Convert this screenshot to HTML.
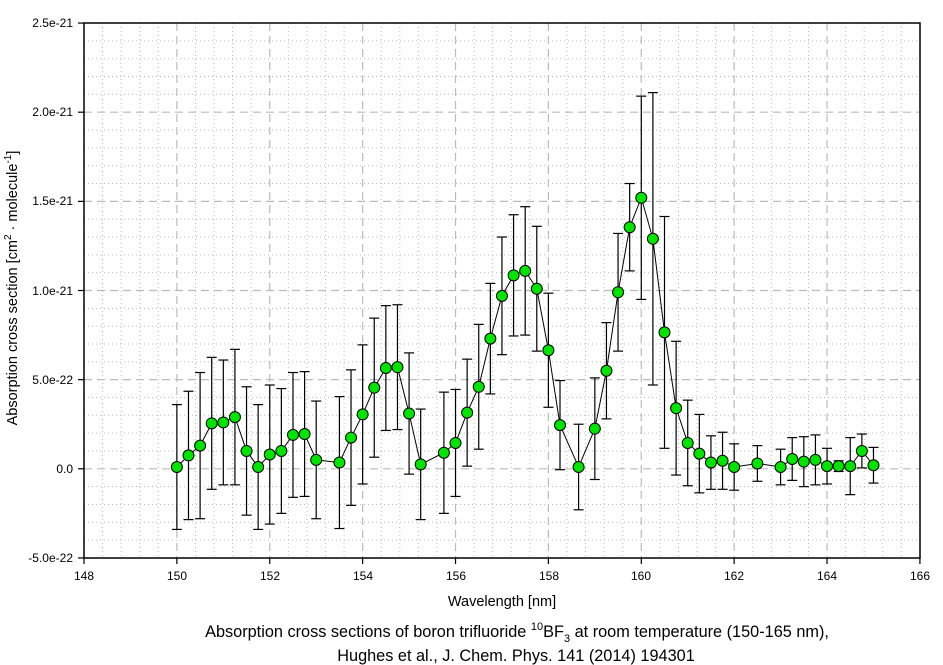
<!DOCTYPE html>
<html><head><meta charset="utf-8"><style>
html,body{margin:0;padding:0;background:#fff;}
svg{display:block;font-family:"Liberation Sans",Arial,sans-serif;}
</style></head><body>
<svg id="s" width="943" height="665" viewBox="0 0 943 665" xmlns="http://www.w3.org/2000/svg">
<rect width="943" height="665" fill="#fff"/>
<g id="grid"></g>
<g id="data"></g>
<rect x="84" y="23" width="836" height="535" fill="none" stroke="#000" stroke-width="1.5"/>
<g id="ticks" stroke="#000" stroke-width="1.2"></g>
<g font-size="12" fill="#000" text-anchor="end">
<text x="73" y="27">2.5e-21</text>
<text x="73" y="116">2.0e-21</text>
<text x="73" y="205">1.5e-21</text>
<text x="73" y="295">1.0e-21</text>
<text x="73" y="384">5.0e-22</text>
<text x="73" y="473">0.0</text>
<text x="73" y="562">-5.0e-22</text>
</g>
<g font-size="12" fill="#000" text-anchor="middle">
<text x="84" y="580">148</text>
<text x="177" y="580">150</text>
<text x="270" y="580">152</text>
<text x="363" y="580">154</text>
<text x="456" y="580">156</text>
<text x="549" y="580">158</text>
<text x="641" y="580">160</text>
<text x="734" y="580">162</text>
<text x="827" y="580">164</text>
<text x="920" y="580">166</text>
<text x="502" y="606" font-size="14.5">Wavelength [nm]</text>
</g>
<text transform="translate(17,288) rotate(-90)" font-size="14.5" text-anchor="middle">Absorption cross section [cm<tspan dy="-6" font-size="10">2</tspan><tspan dy="6"> · molecule</tspan><tspan dy="-6" font-size="10">-1</tspan><tspan dy="6">]</tspan></text>
<g font-size="16.3" text-anchor="middle" fill="#000">
<text x="517" y="637">Absorption cross sections of boron trifluoride <tspan dy="-7" font-size="11">10</tspan><tspan dy="7">BF</tspan><tspan dy="5" font-size="11">3</tspan><tspan dy="-5"> at room temperature (150-165 nm),</tspan></text>
<text x="516" y="661">Hughes et al., J. Chem. Phys. 141 (2014) 194301</text>
</g>
</svg>
<script>
var NS="http://www.w3.org/2000/svg";
function X(w){return 84+(w-148)*46.44;}
function Y(v){return 468.8-v*17.83;}
function el(p,t,a){var e=document.createElementNS(NS,t);for(var k in a)e.setAttribute(k,a[k]);p.appendChild(e);return e;}
var g=document.getElementById('grid');
for(var i=1;i<45;i++){var w=148+i*0.4;var x=X(w);var major=(i%5==0);
 el(g,'line',{x1:x,y1:23,x2:x,y2:558,stroke:major?'#bbb':'#bdbdbd','stroke-width':major?1.2:1,'stroke-dasharray':major?'8,5':'1,3'});}
for(var j=-4;j<25;j++){var y=Y(j);var major=(j%5==0);
 el(g,'line',{x1:84,y1:y,x2:920,y2:y,stroke:major?'#bbb':'#bdbdbd','stroke-width':major?1.2:1,'stroke-dasharray':major?'8,5':'1,3'});}
var t=document.getElementById('ticks');
for(var w=148;w<=166;w+=2)el(t,'line',{x1:X(w),y1:558,x2:X(w),y2:564});
for(var v=-5;v<=25;v+=5)el(t,'line',{x1:78,y1:Y(v),x2:84,y2:Y(v)});
var d=[[150,0.1,3.5],[150.25,0.75,3.6],[150.5,1.3,4.1],[150.75,2.55,3.7],[151,2.6,3.5],[151.25,2.9,3.8],[151.5,1.0,3.6],[151.75,0.1,3.5],[152,0.8,3.9],[152.25,1.0,3.5],[152.5,1.9,3.5],[152.75,1.95,3.5],[153,0.5,3.3],[153.5,0.35,3.7],[153.75,1.75,3.8],[154,3.05,3.9],[154.25,4.55,3.9],[154.5,5.65,3.5],[154.75,5.7,3.5],[155,3.1,3.4],[155.25,0.25,3.1],[155.75,0.9,3.4],[156,1.45,3.0],[156.25,3.15,3.0],[156.5,4.6,3.5],[156.75,7.3,3.1],[157,9.7,3.3],[157.25,10.85,3.4],[157.5,11.1,3.6],[157.75,10.1,3.5],[158,6.65,3.2],[158.25,2.45,2.5],[158.65,0.1,2.4],[159,2.25,2.85],[159.25,5.5,2.7],[159.5,9.9,3.3],[159.75,13.55,2.45],[160,15.2,5.7],[160.25,12.9,8.2],[160.5,7.65,6.5],[160.75,3.4,3.75],[161,1.45,2.4],[161.25,0.85,2.2],[161.5,0.35,1.5],[161.75,0.45,1.6],[162,0.1,1.3],[162.5,0.3,1.0],[163,0.1,1.0],[163.25,0.55,1.2],[163.5,0.4,1.4],[163.75,0.5,1.4],[164,0.15,1.0],[164.25,0.15,0.3],[164.5,0.15,1.6],[164.75,1.0,0.95],[165,0.2,1.0]];
var dg=document.getElementById('data');
d.forEach(function(p){var x=X(p[0]),y1=Y(p[1]+p[2]),y2=Y(p[1]-p[2]);
 el(dg,'line',{x1:x,y1:y1,x2:x,y2:y2,stroke:'#000','stroke-width':1.2});
 el(dg,'line',{x1:x-5,y1:y1,x2:x+5,y2:y1,stroke:'#000','stroke-width':1.2});
 el(dg,'line',{x1:x-5,y1:y2,x2:x+5,y2:y2,stroke:'#000','stroke-width':1.2});});
el(dg,'polyline',{points:d.map(function(p){return X(p[0])+','+Y(p[1]);}).join(' '),fill:'none',stroke:'#000','stroke-width':1});
d.forEach(function(p){el(dg,'circle',{cx:X(p[0]),cy:Y(p[1]),r:5.5,fill:'#00e400',stroke:'#000','stroke-width':1});});
</script>
</body></html>
